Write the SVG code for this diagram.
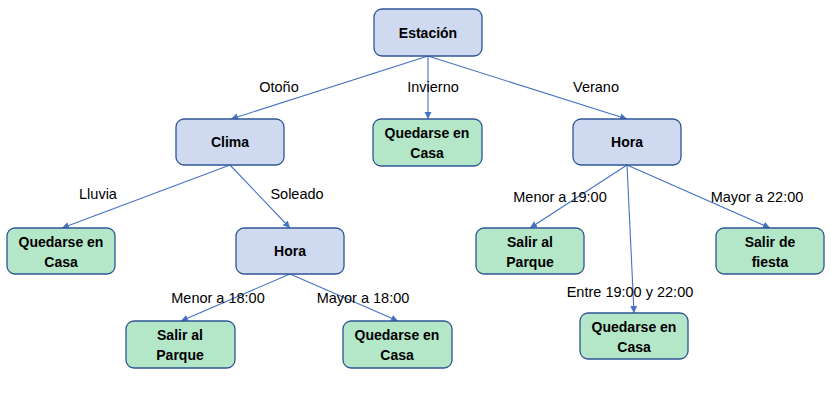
<svg xmlns="http://www.w3.org/2000/svg" width="831" height="411" viewBox="0 0 831 411">
<defs>
<marker id="arr" markerWidth="8" markerHeight="8" refX="7" refY="4" orient="auto" markerUnits="userSpaceOnUse">
<path d="M0,0.5 L7,4 L0,7.5 Z" fill="#4472c4"/>
</marker>
<style>
.b{fill:#cfdaf1;stroke:#2f5597;stroke-width:1.3}
.g{fill:#b4e6c8;stroke:#2f5597;stroke-width:1.3}
.t{font-family:"Liberation Sans",Arial,sans-serif;font-size:14px;font-weight:bold;fill:#000;text-anchor:middle}
.l{font-family:"Liberation Sans",Arial,sans-serif;font-size:14.5px;fill:#000;text-anchor:middle}
.c{stroke:#4472c4;stroke-width:1.1;fill:none;marker-end:url(#arr)}
</style>
</defs>
<rect width="831" height="411" fill="#fff"/>
<g id="connectors">
<line class="c" x1="428" y1="56" x2="231" y2="119"/>
<line class="c" x1="428" y1="56" x2="428" y2="119"/>
<line class="c" x1="428" y1="56" x2="627" y2="119"/>
<line class="c" x1="230" y1="165" x2="62" y2="228"/>
<line class="c" x1="230" y1="165" x2="290" y2="228"/>
<line class="c" x1="290" y1="274" x2="181" y2="321"/>
<line class="c" x1="290" y1="274" x2="398" y2="321"/>
<line class="c" x1="627" y1="165" x2="530" y2="228"/>
<line class="c" x1="627" y1="165" x2="634" y2="313"/>
<line class="c" x1="627" y1="165" x2="770" y2="228"/>
</g>
<g id="labels">
<text class="l" x="279" y="92">Otoño</text>
<text class="l" x="433" y="92">Invierno</text>
<text class="l" x="596" y="92">Verano</text>
<text class="l" x="98" y="199">Lluvia</text>
<text class="l" x="297" y="199">Soleado</text>
<text class="l" x="218" y="303">Menor a 18:00</text>
<text class="l" x="363" y="303">Mayor a 18:00</text>
<text class="l" x="560" y="202">Menor a 19:00</text>
<text class="l" x="757" y="202">Mayor a 22:00</text>
<text class="l" x="630" y="297">Entre 19:00 y 22:00</text>
</g>
<g id="estacion"><rect class="b" x="374" y="9" width="108" height="47" rx="8"/><text class="t" x="428" y="38">Estación</text></g>
<g id="clima"><rect class="b" x="176" y="119" width="108" height="46" rx="8"/><text class="t" x="230" y="147">Clima</text></g>
<g id="casa1"><rect class="g" x="373" y="119" width="109" height="47" rx="8"/><text class="t" x="427" y="138">Quedarse en</text><text class="t" x="427" y="158">Casa</text></g>
<g id="hora1"><rect class="b" x="573" y="119" width="108" height="46" rx="8"/><text class="t" x="627" y="147">Hora</text></g>
<g id="casa2"><rect class="g" x="7" y="228" width="108" height="46" rx="8"/><text class="t" x="61" y="247">Quedarse en</text><text class="t" x="61" y="267">Casa</text></g>
<g id="hora2"><rect class="b" x="236" y="228" width="108" height="46" rx="8"/><text class="t" x="290" y="256">Hora</text></g>
<g id="parque1"><rect class="g" x="476" y="228" width="108" height="46" rx="8"/><text class="t" x="530" y="247">Salir al</text><text class="t" x="530" y="267">Parque</text></g>
<g id="fiesta"><rect class="g" x="716" y="228" width="108" height="46" rx="8"/><text class="t" x="770" y="247">Salir de</text><text class="t" x="770" y="267">fiesta</text></g>
<g id="parque2"><rect class="g" x="126" y="321" width="109" height="47" rx="8"/><text class="t" x="180" y="340">Salir al</text><text class="t" x="180" y="360">Parque</text></g>
<g id="casa3"><rect class="g" x="343" y="321" width="109" height="47" rx="8"/><text class="t" x="397" y="340">Quedarse en</text><text class="t" x="397" y="360">Casa</text></g>
<g id="casa4"><rect class="g" x="580" y="313" width="108" height="46" rx="8"/><text class="t" x="634" y="332">Quedarse en</text><text class="t" x="634" y="352">Casa</text></g>
</svg>
